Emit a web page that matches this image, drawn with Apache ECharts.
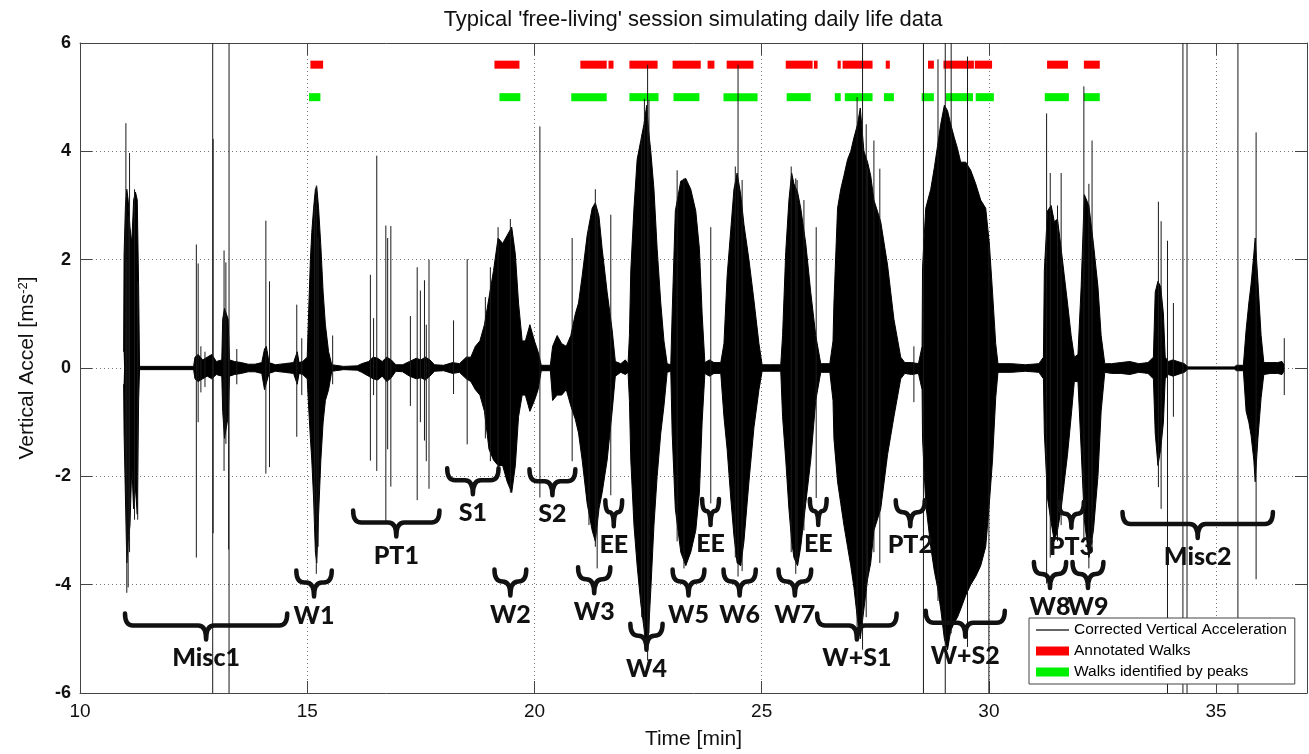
<!DOCTYPE html>
<html>
<head>
<meta charset="utf-8">
<title>Typical free-living session</title>
<script src="https://cdn.jsdelivr.net/npm/echarts@6/dist/echarts.min.js"></script>
<style>
  html, body { margin: 0; padding: 0; background: #fff; }
  #chart { width: 1309px; height: 754px; }
</style>
</head>
<body>
<div id="chart"></div>
<script>
// signal envelope: [time (min), upper, lower]
var signalEnvelope = [
  [10.96, 0.3, -0.3], [10.97, 2.1, -1.2], [11.00, 3.0, -2.4], [11.03, 3.3, -3.6], [11.06, 3.1, -3.2],
  [11.10, 2.6, -2.9], [11.14, 2.3, -1.8], [11.18, 3.1, -2.6], [11.22, 3.25, -2.2], [11.26, 3.1, -2.7],
  [11.29, 1.5, -0.6], [11.31, 0.03, -0.03], [12.50, 0.03, -0.03],
  [12.53, 0.2, -0.2], [12.6, 0.25, -0.25], [12.7, 0.15, -0.2], [12.8, 0.2, -0.15], [12.9, 0.25, -0.2],
  [13.0, 0.12, -0.12], [13.12, 0.15, -0.15], [13.14, 0.9, -0.8], [13.18, 1.1, -1.3], [13.22, 1.0, -1.1],
  [13.26, 0.9, -0.9], [13.29, 0.15, -0.15], [13.4, 0.12, -0.12], [13.55, 0.1, -0.1], [13.7, 0.07, -0.07],
  [13.85, 0.07, -0.07], [14.0, 0.1, -0.1], [14.06, 0.35, -0.4], [14.1, 0.4, -0.4], [14.16, 0.1, -0.1],
  [14.3, 0.06, -0.06], [14.5, 0.08, -0.08], [14.7, 0.1, -0.1], [14.78, 0.3, -0.3], [14.82, 0.1, -0.1],
  [14.9, 0.12, -0.12],
  [15.0, 0.2, -0.2], [15.03, 1.0, -0.7], [15.07, 2.0, -1.3], [15.10, 2.5, -1.7], [15.14, 2.95, -2.4],
  [15.18, 3.3, -3.4], [15.21, 3.35, -3.6], [15.25, 2.95, -2.7], [15.30, 2.25, -1.7], [15.35, 1.4, -1.0],
  [15.40, 0.8, -0.6], [15.47, 0.3, -0.4], [15.54, 0.06, -0.06], [15.8, 0.03, -0.03], [16.1, 0.04, -0.04],
  [16.2, 0.08, -0.08], [16.35, 0.12, -0.15], [16.45, 0.2, -0.2], [16.55, 0.18, -0.22], [16.65, 0.12, -0.15],
  [16.75, 0.2, -0.25], [16.85, 0.15, -0.18], [16.95, 0.06, -0.06], [17.1, 0.06, -0.07], [17.25, 0.12, -0.15],
  [17.4, 0.18, -0.2], [17.5, 0.15, -0.18], [17.6, 0.2, -0.22], [17.7, 0.15, -0.15], [17.8, 0.06, -0.06],
  [18.0, 0.05, -0.05], [18.2, 0.1, -0.1], [18.35, 0.08, -0.08], [18.5, 0.2, -0.2], [18.6, 0.2, -0.25],
  [18.7, 0.4, -0.4], [18.8, 0.5, -0.5], [18.9, 0.8, -0.8],
  [19.0, 1.3, -1.5], [19.1, 1.8, -1.7], [19.2, 2.4, -1.8], [19.3, 2.3, -1.8], [19.4, 2.45, -2.1],
  [19.5, 2.6, -2.3], [19.58, 2.1, -1.8], [19.65, 1.2, -0.9], [19.73, 0.5, -0.5], [19.8, 0.5, -0.5],
  [19.9, 0.8, -0.8], [20.0, 0.5, -0.6], [20.08, 0.3, -0.4], [20.15, 0.05, -0.05], [20.35, 0.05, -0.05],
  [20.4, 0.4, -0.6], [20.5, 0.6, -0.5], [20.6, 0.45, -0.5], [20.7, 0.4, -0.4], [20.8, 0.6, -0.7],
  [20.9, 1.0, -0.95],
  [20.97, 1.2, -1.2], [21.05, 1.7, -1.7], [21.16, 2.45, -2.5], [21.27, 2.95, -3.0], [21.34, 3.05, -3.2],
  [21.42, 2.8, -2.6], [21.49, 2.2, -2.3], [21.6, 1.4, -1.7], [21.71, 0.7, -0.8], [21.78, 0.12, -0.15],
  [21.9, 0.08, -0.08], [22.0, 0.15, -0.12], [22.06, 0.08, -0.08],
  [22.09, 0.6, -0.6], [22.12, 1.8, -1.7], [22.19, 2.95, -2.9], [22.26, 3.85, -3.65], [22.34, 4.2, -4.35],
  [22.41, 4.5, -4.8], [22.47, 4.85, -5.2], [22.51, 4.4, -4.9], [22.56, 4.0, -4.1], [22.63, 3.3, -2.9],
  [22.7, 2.2, -2.0], [22.78, 1.2, -1.2], [22.85, 0.5, -0.7], [22.92, 0.08, -0.08], [23.0, 0.06, -0.06],
  [23.03, 1.0, -1.2], [23.1, 2.9, -2.6], [23.22, 3.45, -3.4], [23.33, 3.5, -3.65], [23.44, 3.3, -3.4],
  [23.55, 2.9, -3.0], [23.63, 2.2, -2.3], [23.69, 1.0, -1.0], [23.75, 0.1, -0.1],
  [23.85, 0.15, -0.15], [23.95, 0.1, -0.1], [24.1, 0.1, -0.1],
  [24.17, 0.45, -0.9], [24.24, 1.7, -1.5], [24.32, 2.55, -2.4], [24.39, 3.3, -3.1], [24.46, 3.6, -3.6],
  [24.54, 3.2, -3.65], [24.61, 2.65, -3.2], [24.72, 2.0, -2.1], [24.83, 1.25, -1.1], [24.94, 0.45, -0.4],
  [25.01, 0.06, -0.06], [25.2, 0.06, -0.06], [25.42, 0.06, -0.06],
  [25.46, 0.6, -0.9], [25.53, 2.15, -1.7], [25.6, 3.1, -2.6], [25.66, 3.6, -3.2], [25.71, 3.4, -3.5],
  [25.79, 3.25, -3.65], [25.86, 2.95, -3.3], [25.97, 2.3, -2.5], [26.08, 1.4, -1.7], [26.19, 0.6, -0.6],
  [26.3, 0.08, -0.08], [26.5, 0.08, -0.08],
  [26.57, 0.5, -0.6], [26.59, 1.2, -1.3], [26.67, 2.95, -2.1], [26.74, 3.3, -2.5], [26.81, 3.55, -2.9],
  [26.89, 3.85, -3.3], [26.96, 4.0, -3.65], [27.03, 4.25, -4.05], [27.11, 4.5, -4.65], [27.17, 4.8, -5.0],
  [27.25, 4.0, -4.45], [27.33, 3.8, -3.9], [27.4, 3.55, -3.6], [27.47, 3.1, -3.0], [27.62, 2.7, -2.6],
  [27.77, 1.9, -1.6], [27.91, 0.9, -0.9], [28.06, 0.2, -0.2], [28.15, 0.1, -0.1], [28.3, 0.1, -0.12],
  [28.45, 0.08, -0.1],
  [28.53, 0.4, -0.4], [28.54, 1.85, -1.3], [28.61, 2.95, -2.5], [28.72, 3.3, -3.3], [28.8, 3.7, -3.75],
  [28.87, 4.1, -4.05], [28.94, 4.5, -4.45], [29.02, 4.85, -5.0], [29.09, 4.75, -5.2], [29.16, 4.5, -4.85],
  [29.24, 4.25, -4.7], [29.31, 4.05, -4.6], [29.38, 3.8, -4.45], [29.49, 3.8, -4.2], [29.6, 3.65, -4.0],
  [29.71, 3.4, -3.85], [29.82, 3.1, -3.65], [29.93, 2.95, -3.3], [30.01, 2.3, -2.5], [30.08, 1.4, -1.7],
  [30.15, 0.45, -0.55], [30.2, 0.08, -0.08], [30.5, 0.08, -0.08], [30.8, 0.06, -0.06], [31.1, 0.08, -0.08],
  [31.2, 0.2, -0.2],
  [31.22, 1.8, -1.2], [31.29, 2.9, -2.4], [31.37, 3.0, -2.85], [31.44, 2.7, -3.2], [31.51, 2.75, -3.0],
  [31.59, 2.2, -2.6], [31.66, 1.7, -2.1], [31.73, 1.2, -1.6], [31.81, 0.6, -0.9], [31.88, 0.2, -0.25],
  [31.96, 0.25, -0.25],
  [32.03, 1.5, -1.5], [32.1, 3.2, -2.8], [32.2, 3.0, -3.5], [32.3, 2.3, -3.0], [32.4, 1.5, -2.0],
  [32.47, 0.6, -0.8], [32.55, 0.08, -0.08], [32.7, 0.08, -0.1], [32.9, 0.1, -0.1], [33.1, 0.12, -0.12],
  [33.3, 0.08, -0.08], [33.5, 0.1, -0.1],
  [33.62, 0.2, -0.2], [33.66, 1.4, -1.2], [33.72, 1.6, -1.8], [33.78, 1.5, -1.5], [33.84, 1.0, -1.0],
  [33.88, 0.2, -0.2], [33.95, 0.12, -0.12], [34.05, 0.15, -0.15], [34.3, 0.08, -0.08], [34.38, 0.02, -0.02],
  [35.4, 0.02, -0.02], [35.45, 0.05, -0.05], [35.6, 0.05, -0.05],
  [35.66, 0.7, -0.8], [35.72, 1.2, -1.0], [35.77, 1.55, -1.25], [35.83, 2.1, -1.7], [35.86, 2.4, -2.1],
  [35.92, 1.6, -1.3], [35.99, 0.6, -0.55], [36.05, 0.1, -0.12], [36.2, 0.1, -0.1], [36.35, 0.1, -0.1],
  [36.45, 0.12, -0.12], [36.5, 0.05, -0.05]
];

// single samples sticking out of the envelope: [time, min, max]
var spikes = [
  [11.01, -2.0, 4.52], [11.03, -4.15, 2.0], [11.06, -4.05, 2.8], [11.09, -3.4, 3.97], [11.2, -2.8, 3.3], [11.27, -2.8, 1.6],
  [12.56, -3.5, 2.28], [12.6, -1.0, 1.93], [12.66, -0.45, 0.4], [12.75, -0.35, 0.3], [12.92, -6.5, 6.5], [12.93, -3.05, 4.23],
  [13.17, -1.9, 2.17], [13.21, -1.4, 1.95], [13.27, -3.35, 0.6], [13.28, -6.5, 6.5], [13.45, -0.3, 0.35],
  [14.09, -1.95, 2.72], [14.17, -1.83, 1.6], [14.77, -1.27, 1.17], [14.88, -0.5, 0.55],
  [15.2, -3.8, 3.37], [15.16, -2.9, 3.0], [15.24, -3.3, 2.4], [15.56, -0.3, 0.6],
  [16.39, -1.71, 1.72], [16.46, -0.5, 0.92], [16.53, -1.9, 3.92], [16.73, -2.86, 2.63], [16.77, -1.5, 2.4], [16.84, -2.19, 2.62],
  [17.27, -0.7, 0.96], [17.42, -2.44, 1.86], [17.49, -1.0, 1.43], [17.58, -1.34, 1.62], [17.62, -1.72, 0.8], [17.68, -2.23, 2.0],
  [18.22, -0.48, 0.88], [18.52, -1.41, 2.01], [18.92, -1.3, 1.31], [19.03, -1.72, 1.86],
  [19.2, -2.0, 2.6], [19.47, -2.3, 2.75], [20.12, -2.39, 4.46], [20.83, -1.72, 2.4],
  [21.2, -2.9, 2.6], [21.34, -3.3, 3.3], [21.38, -3.7, 2.9], [21.68, -2.35, 2.83],
  [22.36, -4.6, 4.3], [22.42, -5.0, 4.97], [22.49, -5.4, 5.6], [22.52, -4.9, 4.95],
  [23.14, -3.2, 3.65], [23.29, -3.7, 3.5], [23.88, -2.5, 2.6],
  [24.42, -3.5, 3.72], [24.48, -3.85, 5.6], [24.57, -3.75, 3.47],
  [25.65, -3.4, 3.72], [25.75, -3.8, 3.5], [25.78, -3.6, 3.47], [25.93, -3.0, 3.1], [26.2, -2.4, 2.6],
  [27.1, -4.8, 5.0], [27.22, -5.2, 6.5], [27.3, -4.6, 4.5], [27.33, -3.9, 3.7], [27.47, -3.4, 4.2], [27.6, -3.6, 3.68],
  [28.35, -0.63, 0.4], [28.56, -6.5, 6.5], [28.88, -4.3, 5.7], [29.04, -6.5, 6.5], [29.17, -4.9, 6.5],
  [29.53, -5.15, 5.75], [30.0, -6.5, 2.3],
  [31.27, -3.98, 4.7], [31.35, -3.5, 3.6], [31.51, -3.2, 3.0], [31.59, -2.9, 3.6],
  [32.09, -3.2, 5.2], [32.2, -3.7, 3.4], [32.27, -3.4, 4.2],
  [33.73, -2.2, 3.07], [33.79, -2.6, 2.71], [33.93, -6.5, 2.35], [34.06, -0.9, 1.2],
  [34.27, -6.5, 6.5], [34.36, -6.5, 6.5], [35.48, -6.5, 6.5], [35.88, -3.9, 4.35], [36.5, -0.5, 0.55]
];

// walk periods [start, end] in minutes
var annotatedWalks = [
  [15.07, 15.35], [19.12, 19.67], [21.01, 21.59], [21.63, 21.74], [22.09, 22.71],
  [23.04, 23.66], [23.81, 23.96], [24.23, 24.82], [25.53, 26.12], [26.15, 26.23],
  [26.67, 26.74], [26.78, 27.44], [27.73, 27.82], [28.66, 28.79], [29.0, 29.67],
  [29.69, 30.07], [31.28, 31.74], [32.09, 32.44]
];
var peakWalks = [
  [15.04, 15.29], [19.23, 19.69], [20.81, 21.59], [22.09, 22.73], [23.06, 23.63],
  [24.16, 24.91], [25.55, 26.08], [26.61, 26.74], [26.83, 27.44], [27.69, 27.91],
  [28.52, 28.79], [29.05, 29.65], [29.71, 30.11], [31.23, 31.76], [32.09, 32.44]
];

// annotation braces: [label, from, to, level]
var braces = [
  ['Misc1', 10.99, 14.56, -4.53], ['W1', 14.76, 15.54, -3.74], ['PT1', 16.01, 17.91, -2.63],
  ['S1', 18.08, 19.21, -1.85], ['S2', 19.89, 20.9, -1.87], ['W2', 19.12, 19.82, -3.72],
  ['W3', 20.96, 21.67, -3.68], ['EE', 21.56, 21.93, -2.44], ['W4', 22.11, 22.82, -4.72],
  ['W5', 23.04, 23.74, -3.72], ['EE', 23.69, 24.06, -2.42], ['W6', 24.16, 24.87, -3.72],
  ['W7', 25.37, 26.09, -3.72], ['EE', 26.06, 26.43, -2.42], ['W+S1', 26.22, 27.97, -4.53],
  ['PT2', 27.95, 28.59, -2.44], ['W+S2', 28.61, 30.35, -4.48], ['W8', 30.99, 31.7, -3.58],
  ['PT3', 31.54, 32.09, -2.47], ['W9', 31.84, 32.52, -3.58], ['Misc2', 32.94, 36.25, -2.66]
];

var LINE_NAME = 'Corrected Vertical Acceleration';
var RED_NAME = 'Annotated Walks';
var GREEN_NAME = 'Walks identified by peaks';
var AXIS_FONT = '"Liberation Sans", Arial, sans-serif';

function renderSpike(params, api) {
  var cs = params.coordSys;
  var a = api.coord([api.value(0), api.value(1)]);
  var b = api.coord([api.value(0), api.value(2)]);
  var y1 = Math.min(Math.max(a[1], cs.y), cs.y + cs.height);
  var y2 = Math.min(Math.max(b[1], cs.y), cs.y + cs.height);
  return {
    type: 'line',
    shape: { x1: a[0], y1: y1, x2: b[0], y2: y2 },
    style: { stroke: '#1a1a1a', lineWidth: 1 }
  };
}

function renderWalk(params, api) {
  var a = api.coord([api.value(0), api.value(2)]);
  var b = api.coord([api.value(1), api.value(2)]);
  return {
    type: 'rect',
    shape: { x: a[0], y: a[1] - 4, width: b[0] - a[0], height: 8 },
    style: { fill: api.visual('color') }
  };
}

function renderBrace(params, api) {
  var a = api.coord([api.value(0), api.value(2)]);
  var b = api.coord([api.value(1), api.value(2)]);
  var x0 = a[0], x1 = b[0], yTop = a[1];
  var yBar = yTop + 12, yTip = yBar + 14, xm = (x0 + x1) / 2;
  var r = Math.min(8, (x1 - x0) / 4);
  var d = 'M' + x0 + ',' + yTop +
    ' Q' + x0 + ',' + yBar + ' ' + (x0 + r) + ',' + yBar +
    ' L' + (xm - r) + ',' + yBar +
    ' Q' + xm + ',' + yBar + ' ' + xm + ',' + yTip +
    ' Q' + xm + ',' + yBar + ' ' + (xm + r) + ',' + yBar +
    ' L' + (x1 - r) + ',' + yBar +
    ' Q' + x1 + ',' + yBar + ' ' + x1 + ',' + yTop;
  return {
    type: 'group',
    children: [
      {
        type: 'path',
        shape: { pathData: d },
        style: { fill: null, stroke: '#111', lineWidth: 4.5, lineCap: 'round', lineJoin: 'round' }
      },
      {
        type: 'text',
        x: xm,
        y: yTip + 19,
        style: {
          text: braces[params.dataIndex][0],
          font: '900 25px Lato, "Open Sans", sans-serif',
          fill: '#111',
          align: 'center',
          verticalAlign: 'middle'
        }
      }
    ]
  };
}

var chart = echarts.init(document.getElementById('chart'), null, { renderer: 'canvas' });

var axisLineStyle = { color: '#444', width: 1 };
var gridDots = { color: '#777', width: 1, type: [1, 3] };

chart.setOption({
  animation: false,
  backgroundColor: '#fff',
  title: {
    text: "Typical 'free-living' session simulating daily life data",
    left: 693,
    top: 9,
    padding: 0,
    textAlign: 'center',
    textStyle: { fontFamily: AXIS_FONT, fontSize: 22, fontWeight: 'normal', color: '#111' }
  },
  grid: { left: 80, right: 2, top: 43, bottom: 61, outerBoundsMode: 'none' },
  legend: {
    left: 1029,
    top: 618,
    orient: 'vertical',
    itemWidth: 33,
    itemHeight: 9,
    itemGap: 5,
    padding: [4, 8, 4, 7],
    backgroundColor: '#fff',
    borderColor: '#444',
    borderWidth: 1,
    borderRadius: 0,
    selectedMode: false,
    z: 20,
    textStyle: { fontFamily: AXIS_FONT, fontSize: 15.5, color: '#000', lineHeight: 16 },
    data: [
      { name: LINE_NAME, icon: 'path://M0,0H33V1.3H0Z', itemStyle: { color: '#333' } },
      { name: RED_NAME, icon: 'rect' },
      { name: GREEN_NAME, icon: 'rect' }
    ]
  },
  xAxis: [
    {
      type: 'value', min: 10, max: 37, interval: 5, position: 'bottom',
      name: 'Time [min]', nameLocation: 'middle', nameGap: 36,
      nameTextStyle: { fontFamily: AXIS_FONT, fontSize: 21, color: '#111' },
      axisLine: { onZero: false, lineStyle: axisLineStyle },
      axisTick: { inside: true, length: 12, lineStyle: axisLineStyle },
      axisLabel: { fontFamily: AXIS_FONT, fontSize: 19, color: '#111', margin: 9, showMaxLabel: false },
      splitLine: { show: true, lineStyle: gridDots }
    },
    {
      type: 'value', min: 10, max: 37, interval: 5, position: 'top',
      axisLine: { onZero: false, lineStyle: axisLineStyle },
      axisTick: { inside: true, length: 12, lineStyle: axisLineStyle },
      axisLabel: { show: false },
      splitLine: { show: false }
    }
  ],
  yAxis: [
    {
      type: 'value', min: -6, max: 6, interval: 2, position: 'left',
      name: 'Vertical Accel [ms{sup|-2}]', nameLocation: 'middle', nameGap: 42,
      nameTextStyle: {
        fontFamily: AXIS_FONT, fontSize: 21, color: '#111',
        rich: { sup: { fontFamily: AXIS_FONT, fontSize: 13, color: '#111', verticalAlign: 'top', lineHeight: 13 } }
      },
      axisLine: { onZero: false, lineStyle: axisLineStyle },
      axisTick: { inside: true, length: 12, lineStyle: axisLineStyle },
      axisLabel: { fontFamily: AXIS_FONT, fontSize: 18, fontWeight: 'bold', color: '#111', margin: 9 },
      splitLine: { show: true, lineStyle: gridDots }
    },
    {
      type: 'value', min: -6, max: 6, interval: 2, position: 'right',
      axisLine: { onZero: false, lineStyle: axisLineStyle },
      axisTick: { inside: true, length: 12, lineStyle: axisLineStyle },
      axisLabel: { show: false },
      splitLine: { show: false }
    }
  ],
  series: [
    {
      name: LINE_NAME,
      type: 'line',
      data: signalEnvelope.map(function (e) { return [e[0], e[1]]; }),
      showSymbol: false,
      symbol: 'none',
      itemStyle: { color: '#000' },
      lineStyle: { color: '#000', width: 1 },
      areaStyle: { color: '#000', opacity: 1 },
      z: 3
    },
    {
      type: 'line',
      data: signalEnvelope.map(function (e) { return [e[0], e[2]]; }),
      showSymbol: false,
      symbol: 'none',
      itemStyle: { color: '#000' },
      lineStyle: { color: '#000', width: 1 },
      areaStyle: { color: '#000', opacity: 1 },
      z: 3
    },
    {
      type: 'custom',
      renderItem: renderSpike,
      data: spikes,
      encode: { x: 0, y: [1, 2] },
      z: 4
    },
    {
      name: RED_NAME,
      type: 'custom',
      renderItem: renderWalk,
      itemStyle: { color: '#ff0000' },
      data: annotatedWalks.map(function (w) { return [w[0], w[1], 5.6]; }),
      encode: { x: [0, 1], y: 2 },
      z: 2
    },
    {
      name: GREEN_NAME,
      type: 'custom',
      renderItem: renderWalk,
      itemStyle: { color: '#00f000' },
      data: peakWalks.map(function (w) { return [w[0], w[1], 5.0]; }),
      encode: { x: [0, 1], y: 2 },
      z: 2
    },
    {
      type: 'custom',
      renderItem: renderBrace,
      data: braces.map(function (b) { return [b[1], b[2], b[3]]; }),
      encode: { x: [0, 1], y: 2 },
      clip: false,
      z: 6
    }
  ]
});
</script>
</body>
</html>
